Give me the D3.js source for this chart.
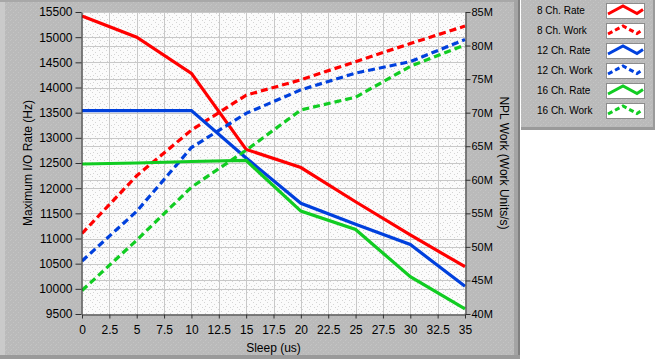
<!DOCTYPE html>
<html>
<head>
<meta charset="utf-8">
<script src="https://cdn.jsdelivr.net/npm/d3@7"></script>
<style>
  body { margin: 0; background: #fff; }
  svg { display: block; font-family: "Liberation Sans", Arial, sans-serif; }
</style>
</head>
<body>
<div id="chart"></div>
<script>
// Data
const sleep = [0, 5, 10, 15, 20, 25, 30, 35];
const rate8 = [15420, 15000, 14280, 12770, 12410, 11730, 11070, 10440];
const rate12 = [13540, 13540, 13540, 12600, 11700, 11285, 10880, 10050];
const rate16 = [12480, 12500, 12530, 12550, 11545, 11180, 10240, 9600];
const work8 = [52.0, 60.6, 67.4, 72.6, 74.9, 77.6, 80.3, 82.9];
const work12 = [47.9, 55.3, 64.8, 69.9, 73.4, 75.9, 77.6, 80.9];
const work16 = [43.5, 51.0, 58.9, 64.4, 70.4, 72.3, 76.9, 80.1];

const xTicks = d3.range(0, 35.01, 2.5);
const rateTicks = d3.range(9500, 15501, 500);
const workTicks = d3.range(40, 86, 5);

const series = [
  { name: "8 Ch. Rate", values: rate8, axis: "rate", color: "#ff0000", dash: null },
  { name: "8 Ch. Work", values: work8, axis: "work", color: "#ff0000", dash: "7,4" },
  { name: "12 Ch. Rate", values: rate12, axis: "rate", color: "#0040dd", dash: null },
  { name: "12 Ch. Work", values: work12, axis: "work", color: "#0040dd", dash: "7,4" },
  { name: "16 Ch. Rate", values: rate16, axis: "rate", color: "#11cc22", dash: null },
  { name: "16 Ch. Work", values: work16, axis: "work", color: "#11cc22", dash: "7,4" }
];

const W = 657, H = 360;
const plot = { left: 82, right: 465, top: 12, bottom: 314 };

const svg = d3.select("#chart").append("svg")
  .attr("width", W)
  .attr("height", H);

// textures
const defs = svg.append("defs");
const pDots = defs.append("pattern")
  .attr("id", "plotTex").attr("width", 7).attr("height", 7)
  .attr("patternUnits", "userSpaceOnUse");
pDots.append("rect").attr("width", 7).attr("height", 7).attr("fill", "#fbfbfb");
[[1, 1], [4, 3], [2, 5], [6, 6]].forEach(p => {
  pDots.append("rect").attr("x", p[0]).attr("y", p[1])
    .attr("width", 1).attr("height", 1).attr("fill", "#d4d4d4");
});
const gTex = defs.append("pattern")
  .attr("id", "panelTex").attr("width", 5).attr("height", 5)
  .attr("patternUnits", "userSpaceOnUse");
gTex.append("rect").attr("width", 5).attr("height", 5).attr("fill", "#bababa");
[[0, 0], [3, 2], [1, 4]].forEach(p => {
  gTex.append("rect").attr("x", p[0]).attr("y", p[1])
    .attr("width", 1).attr("height", 1).attr("fill", "#c4c4c4");
});

// chart panel
svg.append("rect").attr("x", 0).attr("y", 0).attr("width", 520).attr("height", 359)
  .attr("fill", "url(#panelTex)");
svg.append("rect").attr("x", 0).attr("y", 0).attr("width", 5).attr("height", 359)
  .attr("fill", "#cacaca");
svg.append("rect").attr("x", 0).attr("y", 0).attr("width", 520).attr("height", 2)
  .attr("fill", "#a8a8a8");
svg.append("rect").attr("x", 514).attr("y", 0).attr("width", 6).attr("height", 359)
  .attr("fill", "#a4a4a4");
svg.append("rect").attr("x", 518).attr("y", 0).attr("width", 2).attr("height", 359)
  .attr("fill", "#808080");
svg.append("rect").attr("x", 0).attr("y", 355).attr("width", 520).attr("height", 4)
  .attr("fill", "#9a9a9a");

// legend panel
svg.append("rect").attr("x", 521).attr("y", 0).attr("width", 134).attr("height", 130)
  .attr("fill", "url(#panelTex)");
svg.append("rect").attr("x", 521).attr("y", 127).attr("width", 134).attr("height", 3)
  .attr("fill", "#9a9a9a");
svg.append("rect").attr("x", 653).attr("y", 0).attr("width", 2).attr("height", 130)
  .attr("fill", "#9a9a9a");

// scales
const x = d3.scaleLinear().domain([0, 35]).range([plot.left, plot.right]);
const yRate = d3.scaleLinear().domain([9500, 15500]).range([plot.bottom, plot.top]);
const yWork = d3.scaleLinear().domain([40, 85]).range([plot.bottom, plot.top]);

// plot background
svg.append("rect")
  .attr("x", plot.left).attr("y", plot.top)
  .attr("width", plot.right - plot.left).attr("height", plot.bottom - plot.top)
  .attr("fill", "url(#plotTex)");

// grid
const grid = svg.append("g").attr("stroke", "#c8c8c8").attr("stroke-width", 1);
xTicks.forEach(t => {
  const px = Math.round(x(t)) + 0.5;
  grid.append("line").attr("x1", px).attr("x2", px)
    .attr("y1", plot.top).attr("y2", plot.bottom);
});
rateTicks.forEach(t => {
  const py = Math.round(yRate(t)) + 0.5;
  grid.append("line").attr("x1", plot.left).attr("x2", plot.right)
    .attr("y1", py).attr("y2", py);
});
workTicks.forEach(t => {
  const py = Math.round(yWork(t)) + 0.5;
  grid.append("line").attr("x1", plot.left).attr("x2", plot.right)
    .attr("y1", py).attr("y2", py);
});

// lines
const clip = defs.append("clipPath").attr("id", "plotClip");
clip.append("rect").attr("x", plot.left).attr("y", plot.top - 2)
  .attr("width", plot.right - plot.left + 2).attr("height", plot.bottom - plot.top + 2);

const lines = svg.append("g").attr("clip-path", "url(#plotClip)");
series.forEach(s => {
  const yS = s.axis === "rate" ? yRate : yWork;
  const line = d3.line().x((d, i) => x(sleep[i])).y(d => yS(d));
  lines.append("path")
    .datum(s.values)
    .attr("d", line)
    .attr("fill", "none")
    .attr("stroke", s.color)
    .attr("stroke-width", 3.2)
    .attr("stroke-dasharray", s.dash);
});

// axes
const axisStyle = g => {
  g.select(".domain").attr("stroke", "#303030");
  g.selectAll(".tick line").attr("stroke", "#303030");
  g.selectAll(".tick text").attr("fill", "#000").style("font-size", "12px");
};

svg.append("g")
  .attr("transform", `translate(0,${plot.bottom + 0.5})`)
  .call(d3.axisBottom(x).tickValues(xTicks).tickFormat(d3.format("~g"))
    .tickSize(4).tickSizeOuter(0).tickPadding(7))
  .call(axisStyle);

svg.append("g")
  .attr("transform", `translate(${plot.left - 0.5},0)`)
  .call(d3.axisLeft(yRate).tickValues(rateTicks).tickFormat(d3.format("d"))
    .tickSize(6).tickSizeOuter(0).tickPadding(3))
  .call(axisStyle);

svg.append("g")
  .attr("transform", `translate(${plot.right + 0.5},0)`)
  .call(d3.axisRight(yWork).tickValues(workTicks).tickFormat(d => d + "M")
    .tickSize(5).tickSizeOuter(0).tickPadding(1))
  .call(axisStyle)
  .call(g => g.selectAll(".tick text").style("font-size", "11px"));

// axis titles
svg.append("text")
  .attr("transform", `translate(32,${(plot.top + plot.bottom) / 2}) rotate(-90)`)
  .attr("text-anchor", "middle")
  .style("font-size", "12px")
  .text("Maximum I/O Rate (Hz)");

svg.append("text")
  .attr("transform", `translate(500,${(plot.top + plot.bottom) / 2}) rotate(90)`)
  .attr("text-anchor", "middle")
  .style("font-size", "12px")
  .text("NPL Work (Work Units/s)");

svg.append("text")
  .attr("x", (plot.left + plot.right) / 2)
  .attr("y", 352)
  .attr("text-anchor", "middle")
  .style("font-size", "12px")
  .text("Sleep (us)");

// legend
const legend = svg.append("g").attr("transform", "translate(537,0)");
series.forEach((s, i) => {
  const row = legend.append("g").attr("transform", `translate(0,${3 + i * 20})`);
  row.append("text")
    .attr("x", 0).attr("y", 11)
    .style("font-size", "10px")
    .text(s.name);
  row.append("rect")
    .attr("x", 69.5).attr("y", 0.5).attr("width", 38).attr("height", 15)
    .attr("fill", "#fff").attr("stroke", "#8c8c8c");
  row.append("path")
    .attr("d", "M71,11 L86,3 L100,10.5 L106,6.5")
    .attr("fill", "none")
    .attr("stroke", s.color)
    .attr("stroke-width", 3)
    .attr("stroke-dasharray", s.dash ? "5,3" : null);
});
</script>
</body>
</html>
